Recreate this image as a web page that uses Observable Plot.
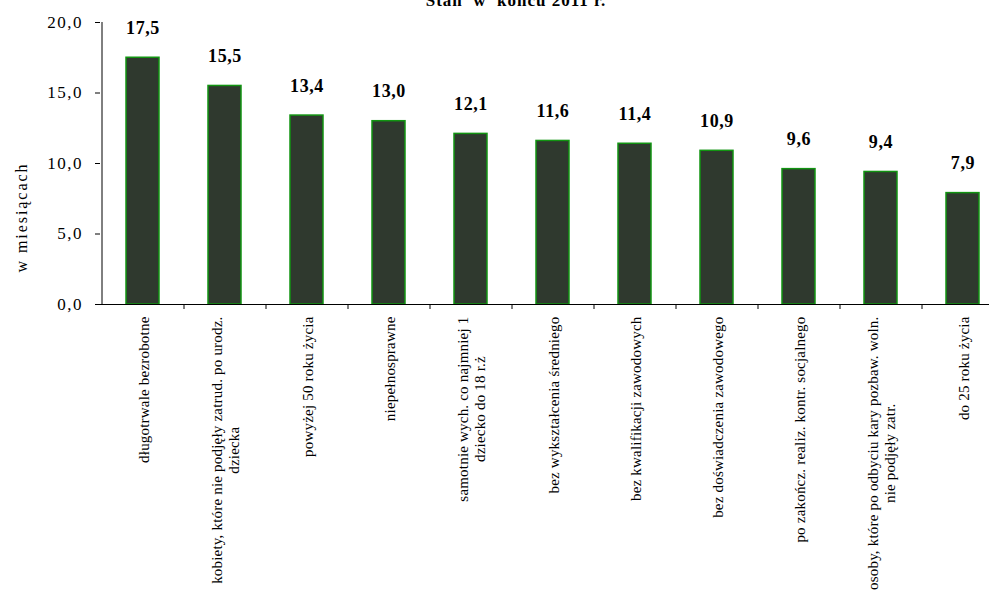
<!DOCTYPE html>
<html><head><meta charset="utf-8">
<script src="https://cdn.jsdelivr.net/npm/d3@7"></script>
<script src="https://cdn.jsdelivr.net/npm/@observablehq/plot@0.6"></script>
<style>
body{margin:0;background:#fff;}
#wrap{position:relative;width:989px;height:592px;overflow:hidden;}
#title{position:absolute;left:0;width:1032px;text-align:center;top:-9px;font:bold 17px "Liberation Serif";white-space:pre;letter-spacing:1px;color:#000;}
#wrap svg{position:absolute;left:0;top:0;}
#wrap svg text{font-family:"Liberation Serif", serif;}
</style></head><body>
<div id="wrap"><div id="title">Stan  w  końcu 2011 r.</div></div>
<script>
const categories = [
  "długotrwale bezrobotne",
  "kobiety, które nie podjęły zatrud. po urodz. dziecka",
  "powyżej 50 roku życia",
  "niepełnosprawne",
  "samotnie wych. co najmniej 1 dziecko do 18 r.ż",
  "bez wykształcenia średniego",
  "bez kwalifikacji zawodowych",
  "bez doświadczenia zawodowego",
  "po zakończ. realiz. kontr. socjalnego",
  "osoby, które po odbyciu kary pozbaw. woln. nie podjęły zatr.",
  "do 25 roku życia"
];
const tickLabels = [
  "długotrwale bezrobotne",
  "kobiety, które nie podjęły zatrud. po urodz.\ndziecka",
  "powyżej 50 roku życia",
  "niepełnosprawne",
  "samotnie wych. co najmniej 1\ndziecko do 18 r.ż",
  "bez wykształcenia średniego",
  "bez kwalifikacji zawodowych",
  "bez doświadczenia zawodowego",
  "po zakończ. realiz. kontr. socjalnego",
  "osoby, które po odbyciu kary pozbaw. woln.\nnie podjęły zatr.",
  "do 25 roku życia"
];
const values = [17.5, 15.5, 13.4, 13.0, 12.1, 11.6, 11.4, 10.9, 9.6, 9.4, 7.9];
const yTicks = [0, 5, 10, 15, 20];
const yTitle = "w miesiącach";

const data = categories.map((c, i) => ({cat: c, label: tickLabels[i], value: values[i]}));
const fmt = d => d.toFixed(1).replace(".", ",");
const serif = "Liberation Serif";

const chart = Plot.plot({
  width: 989, height: 592,
  marginLeft: 100, marginRight: 0, marginTop: 22, marginBottom: 288,
  style: {fontFamily: serif, fontSize: "16px", color: "#000", background: "transparent", overflow: "visible"},
  x: {domain: categories, range: [101, 1003], paddingInner: 0.6, paddingOuter: 0.3, axis: null},
  y: {domain: [0, 20], axis: null},
  marks: [
    Plot.barY(data, {x: "cat", y: "value", fill: "#2f392e", stroke: "#129412", strokeWidth: 1.5}),
    Plot.text(data, {x: "cat", y: "value", text: d => fmt(d.value), dy: -24, lineAnchor: "bottom",
      fontFamily: serif, fontWeight: "bold", fontSize: 18, fill: "#000", ariaLabel: () => "bar-label"}),
    Plot.axisY(yTicks, {tickFormat: fmt, tickSize: 5, tickPadding: 12.5, fontSize: 17, fontFamily: serif,
      label: null, stroke: "#000", fill: "#000"}),
    Plot.ruleX([categories[0]], {x: d => d, dx: -41, y1: 0, y2: 20, stroke: "#000"}),
    Plot.ruleY([0], {stroke: "#000"}),
    Plot.ruleX(categories, {x: d => d, dx: 41, y1: 0, y2: 0, insetBottom: -5, stroke: "#000"}),
    Plot.text(data, {x: "cat", text: "label", frameAnchor: "bottom", rotate: -90, textAnchor: "end",
      lineAnchor: "middle", dy: 12, fontSize: 15, lineHeight: 1.15, fontFamily: serif, fill: "#000",
      ariaLabel: () => "x-label"}),
    Plot.text([yTitle], {text: d => d, frameAnchor: "left", textAnchor: "middle", lineAnchor: "middle",
      rotate: -90, dx: -79, dy: 55, fontSize: 16, fontFamily: serif, fill: "#000", ariaLabel: () => "y-title"})
  ]
});
document.getElementById("wrap").appendChild(chart);

const svg = d3.select(chart);
const spacing = (sel, v) => svg.selectAll(sel).attr("letter-spacing", v).style("letter-spacing", v);
spacing('g[aria-label="y-axis tick label"] text', "1.5px");
spacing('text[aria-label="bar-label"]', "0.6px");
spacing('text[aria-label="x-label"]', "0.2px");
// the axis title is stretched like the reference's text
svg.selectAll('text[aria-label="y-title"]')
  .attr("text-anchor", "middle")
  .attr("textLength", 108).attr("lengthAdjust", "spacing");
svg.selectAll('text[aria-label="x-label"]').each(function() {
  const spans = Array.from(this.querySelectorAll("tspan"));
  if (spans.length < 2) return;
  const lens = spans.map(s => s.getComputedTextLength());
  const maxL = Math.max(...lens);
  spans.forEach((s, i) => s.setAttribute("x", -(maxL - lens[i]) / 2));
});
</script>
</body></html>
